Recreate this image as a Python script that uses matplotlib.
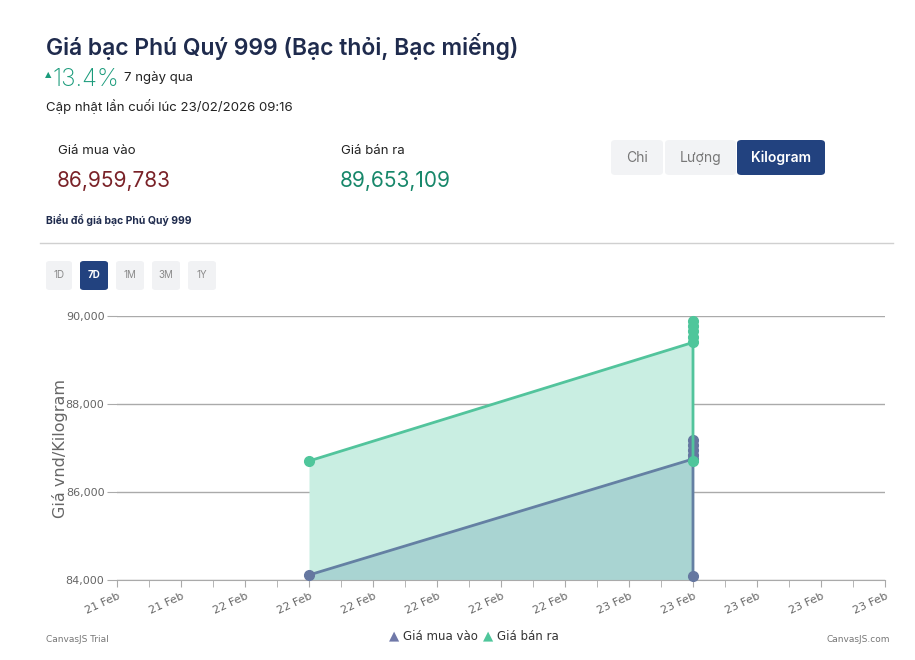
import matplotlib.pyplot as plt
from matplotlib.patches import FancyBboxPatch

plt.rcParams['font.family'] = ['Inter', 'DejaVu Sans']

# Data (hours counted from the first x label, y in thousand vnd/kg)
x_labels = ['21 Feb', '21 Feb', '22 Feb', '22 Feb', '22 Feb', '22 Feb', '22 Feb',
            '22 Feb', '23 Feb', '23 Feb', '23 Feb', '23 Feb', '23 Feb']
x_ticks = [0, 4, 8, 12, 16, 20, 24, 28, 32, 36, 40, 44, 48]

buy_hours = [12, 36, 36, 36, 36, 36, 36]
buy_values = [84114, 86750, 86850, 86960, 87070, 87180, 84100]

sell_hours = [12, 36, 36, 36, 36, 36, 36]
sell_values = [86705, 89400, 89520, 89653, 89770, 89890, 86700]

y_ticks = [84000, 86000, 88000, 90000]

W, H = 915, 660
fig = plt.figure(figsize=(W / 100, H / 100), dpi=100)


def px(x, y):
    return x / W, 1 - y / H


def text(x, y, s, **kw):
    fig.text(*px(x, y), s, **kw)


# Header texts
navy = '#1f2b4d'
text(46, 46, 'Giá bạc Phú Quý 999 (Bạc thỏi, Bạc miếng)', fontsize=16.5,
     fontweight='semibold', color=navy, va='center')
text(45, 75, '▲', fontsize=6, color='#1a9b7b', va='center',
     family=['DejaVu Sans'])
text(52, 80, '13.4%', fontsize=17.5, color='#1a9b7b', va='center', fontweight='light')
text(124, 78, '7 ngày qua', fontsize=9.5, color='#222222', va='center')
text(46, 107, 'Cập nhật lần cuối lúc 23/02/2026 09:16', fontsize=9.5,
     color='#222222', va='center')

text(58, 151, 'Giá mua vào', fontsize=9.5, color='#222222', va='center')
text(57, 181, '86,959,783', fontsize=15, color='#7a2228', va='center')
text(341, 151, 'Giá bán ra', fontsize=9.5, color='#222222', va='center')
text(340, 181, '89,653,109', fontsize=15, color='#17876a', va='center')

# Unit buttons
units = [('Chi', 611, 663), ('Lượng', 665, 736), ('Kilogram', 737, 825)]
for name, x0, x1 in units:
    active = name == 'Kilogram'
    x_a, y_a = px(x0, 175)
    x_b, y_b = px(x1, 140)
    fig.patches.append(FancyBboxPatch(
        (x_a, y_a), x_b - x_a, y_b - y_a, boxstyle='round,pad=0,rounding_size=0.005',
        transform=fig.transFigure, facecolor='#22427f' if active else '#f2f3f5',
        edgecolor='none'))
    text((x0 + x1) / 2, 158, name, fontsize=10, ha='center', va='center',
         color='white' if active else '#777777',
         fontweight='semibold' if active else 'normal')

text(46, 220, 'Biểu đồ giá bạc Phú Quý 999', fontsize=7.5, fontweight='bold',
     color=navy, va='center')
fig.add_artist(plt.Line2D([40 / W, 893 / W], [1 - 243 / H] * 2, color='#d0d0d0',
                          lw=1, transform=fig.transFigure))

# Range buttons
ranges = [('1D', 46, 72), ('7D', 80, 108), ('1M', 116, 144), ('3M', 152, 180), ('1Y', 188, 216)]
for name, x0, x1 in ranges:
    active = name == '7D'
    x_a, y_a = px(x0, 290)
    x_b, y_b = px(x1, 261)
    fig.patches.append(FancyBboxPatch(
        (x_a, y_a), x_b - x_a, y_b - y_a, boxstyle='round,pad=0,rounding_size=0.004',
        transform=fig.transFigure, facecolor='#22427f' if active else '#f1f2f4',
        edgecolor='none'))
    text((x0 + x1) / 2, 275, name, fontsize=7, ha='center', va='center',
         color='white' if active else '#8a8a8a',
         fontweight='bold' if active else 'normal')

# Chart
ax = fig.add_axes([117 / W, 1 - 580 / H, (885 - 117) / W, (580 - 316) / H])
buy_line = '#6480a3'
sell_line = '#52c49c'

ax.fill_between(sell_hours, sell_values, 84000, color='#c9eee2', lw=0, zorder=1)
ax.fill_between(buy_hours, buy_values, 84000, color='#a9d4d2', lw=0, zorder=2)
ax.plot(buy_hours, buy_values, color=buy_line, lw=2, marker='o', ms=7,
        mfc='#6577a0', mec='#6577a0', zorder=3, clip_on=False)
ax.plot(sell_hours, sell_values, color=sell_line, lw=2, marker='o', ms=7,
        mfc='#4fc69b', mec='#4fc69b', zorder=4, clip_on=False)

ax.set_xlim(0, 48)
ax.set_ylim(84000, 90000)
ax.set_xticks(x_ticks)
ax.set_xticklabels(x_labels, rotation=25, ha='right', rotation_mode='anchor',
                   fontsize=8, color='#666666', family=['DejaVu Sans'])
ax.set_xticks(range(0, 49, 2), minor=True)
ax.set_yticks(y_ticks)
ax.set_yticklabels([f'{v:,}' for v in y_ticks], fontsize=8, color='#666666',
                   family=['DejaVu Sans'])
ax.tick_params(axis='x', which='both', length=5, color='#aaaaaa', pad=3)
ax.tick_params(axis='y', length=7, color='#aaaaaa', pad=2)
ax.grid(axis='y', color='#aaaaaa', lw=1)
ax.set_axisbelow(True)
for side in ['top', 'right', 'left']:
    ax.spines[side].set_visible(False)
ax.spines['bottom'].set_color('#aaaaaa')
ax.set_facecolor('none')

text(60, 449, 'Giá vnd/Kilogram', fontsize=11.5, color='#666666', rotation=90,
     ha='center', va='center', family=['DejaVu Sans'])

# Legend
text(389, 636, '▲', fontsize=9.5, color='#6f78a8', va='center', family=['DejaVu Sans'])
text(403, 636, 'Giá mua vào', fontsize=8.5, color='#333333', va='center',
     family=['DejaVu Sans'])
text(483, 636, '▲', fontsize=9.5, color='#4fc69b', va='center', family=['DejaVu Sans'])
text(497, 636, 'Giá bán ra', fontsize=8.5, color='#333333', va='center',
     family=['DejaVu Sans'])

text(46, 639, 'CanvasJS Trial', fontsize=6.5, color='#777777', va='center',
     family=['DejaVu Sans'])
text(890, 639, 'CanvasJS.com', fontsize=6.5, color='#777777', va='center', ha='right',
     family=['DejaVu Sans'])

fig.savefig('out.png', dpi=100, facecolor='white')
